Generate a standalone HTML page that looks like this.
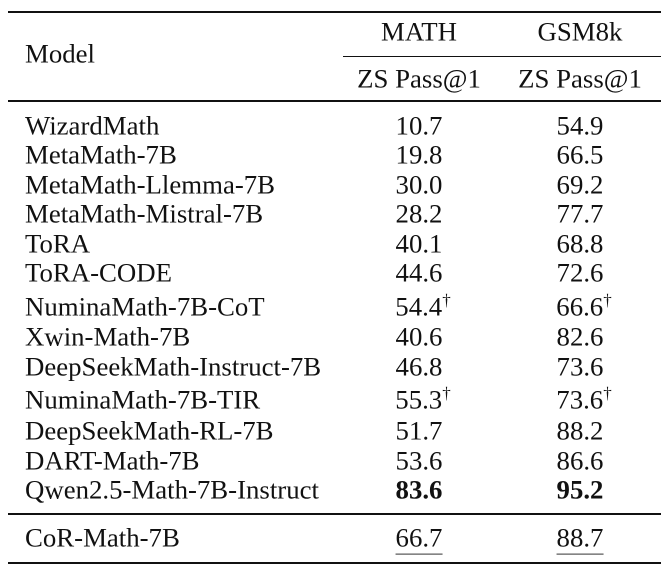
<!DOCTYPE html><html><head><style>
body{margin:0;width:669px;height:574px;background:#fff;position:relative;font-family:"Liberation Serif",serif;color:#111;font-size:26.8px}
.t{position:absolute;line-height:1;white-space:nowrap;transform:translateY(-50%)}
.c{transform:translate(-50%,-50%)}
.r{position:absolute;background:#111}
sup{font-size:17px;vertical-align:10px;line-height:0}
u{text-decoration:none;border-bottom:1.5px solid #333;padding-bottom:1px}
</style></head><body>
<div class="r" style="left:8px;top:11px;width:653px;height:2px"></div>
<div class="r" style="left:343px;top:56px;width:318px;height:1px"></div>
<div class="r" style="left:8px;top:100px;width:653px;height:1.5px"></div>
<div class="r" style="left:8px;top:513px;width:653px;height:1.5px"></div>
<div class="r" style="left:8px;top:562px;width:653px;height:2px"></div>
<div class="t" style="left:25px;top:54px">Model</div>
<div class="t c" style="left:419px;top:32px">MATH</div>
<div class="t c" style="left:580px;top:32px">GSM8k</div>
<div class="t c" style="left:419px;top:79px">ZS Pass@1</div>
<div class="t c" style="left:580px;top:79px">ZS Pass@1</div>

<div class="t" style="left:25px;top:126px">WizardMath</div><div class="t c" style="left:419px;top:126px">10.7</div><div class="t c" style="left:580px;top:126px">54.9</div>
<div class="t" style="left:25px;top:155px">MetaMath-7B</div><div class="t c" style="left:419px;top:155px">19.8</div><div class="t c" style="left:580px;top:155px">66.5</div>
<div class="t" style="left:25px;top:185px">MetaMath-Llemma-7B</div><div class="t c" style="left:419px;top:185px">30.0</div><div class="t c" style="left:580px;top:185px">69.2</div>
<div class="t" style="left:25px;top:214px">MetaMath-Mistral-7B</div><div class="t c" style="left:419px;top:214px">28.2</div><div class="t c" style="left:580px;top:214px">77.7</div>
<div class="t" style="left:25px;top:244px">ToRA</div><div class="t c" style="left:419px;top:244px">40.1</div><div class="t c" style="left:580px;top:244px">68.8</div>
<div class="t" style="left:25px;top:273px">ToRA-CODE</div><div class="t c" style="left:419px;top:273px">44.6</div><div class="t c" style="left:580px;top:273px">72.6</div>
<div class="t" style="left:25px;top:307px">NuminaMath-7B-CoT</div><div class="t c" style="left:423px;top:307px">54.4<sup>†</sup></div><div class="t c" style="left:584px;top:307px">66.6<sup>†</sup></div>
<div class="t" style="left:25px;top:337px">Xwin-Math-7B</div><div class="t c" style="left:419px;top:337px">40.6</div><div class="t c" style="left:580px;top:337px">82.6</div>
<div class="t" style="left:25px;top:367px">DeepSeekMath-Instruct-7B</div><div class="t c" style="left:419px;top:367px">46.8</div><div class="t c" style="left:580px;top:367px">73.6</div>
<div class="t" style="left:25px;top:400px">NuminaMath-7B-TIR</div><div class="t c" style="left:423px;top:400px">55.3<sup>†</sup></div><div class="t c" style="left:584px;top:400px">73.6<sup>†</sup></div>
<div class="t" style="left:25px;top:431px">DeepSeekMath-RL-7B</div><div class="t c" style="left:419px;top:431px">51.7</div><div class="t c" style="left:580px;top:431px">88.2</div>
<div class="t" style="left:25px;top:461px">DART-Math-7B</div><div class="t c" style="left:419px;top:461px">53.6</div><div class="t c" style="left:580px;top:461px">86.6</div>
<div class="t" style="left:25px;top:490px">Qwen2.5-Math-7B-Instruct</div><div class="t c" style="left:419px;top:490px"><b>83.6</b></div><div class="t c" style="left:580px;top:490px"><b>95.2</b></div>
<div class="t" style="left:25px;top:538px">CoR-Math-7B</div><div class="t c" style="left:419px;top:538px"><u>66.7</u></div><div class="t c" style="left:580px;top:538px"><u>88.7</u></div>
</body></html>
